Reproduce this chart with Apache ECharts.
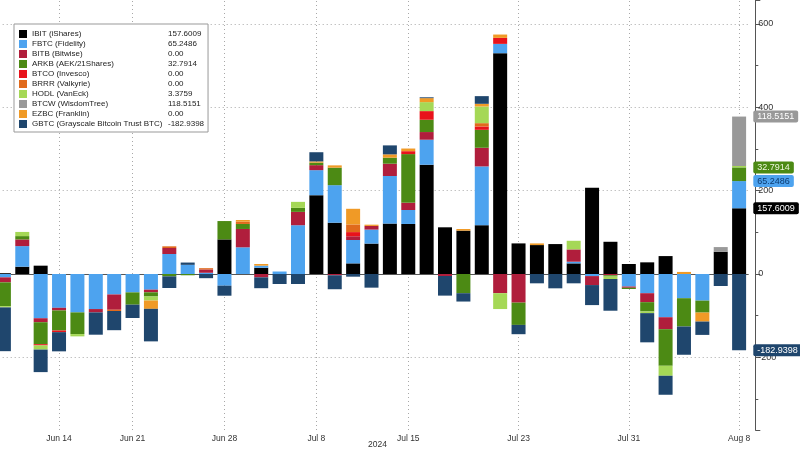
<!DOCTYPE html>
<html><head><meta charset="utf-8">
<script src="https://cdn.jsdelivr.net/npm/echarts@6.0.0/dist/echarts.min.js"></script>
<style>html,body{margin:0;padding:0;background:#fff}#c{width:800px;height:450px}</style>
</head><body><div id="c"></div>
<script>
const categories = ['Jun 11','Jun 12','Jun 13','Jun 14','Jun 17','Jun 18','Jun 20','Jun 21','Jun 24','Jun 25','Jun 26','Jun 27','Jun 28',
  'Jul 1','Jul 2','Jul 3','Jul 5','Jul 8','Jul 9','Jul 10','Jul 11','Jul 12','Jul 15','Jul 16','Jul 17','Jul 18','Jul 19',
  'Jul 22','Jul 23','Jul 24','Jul 25','Jul 26','Jul 29','Jul 30','Jul 31','Aug 1','Aug 2','Aug 5','Aug 6','Aug 7','Aug 8'];
const tickLabels = ['Jun 14','Jun 21','Jun 28','Jul 8','Jul 15','Jul 23','Jul 31','Aug 8'];
const yearLabel = '2024';
const seriesNames = ['IBIT (iShares)','FBTC (Fidelity)','BITB (Bitwise)','ARKB (AEK/21Shares)','BTCO (Invesco)','BRRR (Valkyrie)','HODL (VanEck)','BTCW (WisdomTree)','EZBC (Franklin)','GBTC (Grayscale Bitcoin Trust BTC)'];
const seriesColors = ['#000000','#4da3ef','#b01e3c','#4c8a14','#e8131b','#e06a1c','#a5d856','#999999','#f09a26','#1f466d'];

const ibit = [2,17.5,20,0,0,0,0,0,0,0, 0,0,83,0,15,0,0,189,123,25.5, 73,121,120,262,112,104,117,529.5,73.4,69.4, 71.8,25.5,207,77.3,24,28,43,0,0,53.4,157.6009];
const fbtc = [-8,49.4,-106,-81,-92,-84,-49,-44,-37.5,48, 22,3,-28,64,5,6,117,60,90,56, 33.5,114,33.5,60,0,0,141,22.3,0,0, 0,4,-5,0,-30,-46,-103.6,-58,-63.8,0,65.2486];
const bitb = [-12,16,-9.6,-6.4,0,-8,-36.7,0,-6.4,14.4, 0,8,0,44,-8,0,32,12,-3,9, 8.8,29.5,17.5,18.4,-4.8,0,44.7,-46,-68.6,0, 0,29.5,-21.5,-3,-3,-21.5,-28.7,0,0,0,0];
const arkb = [-57,8,-52.6,-48,-52,0,0,-29.5,-10,-5.6, -3,0,44,12,0,0,9.6,6,42,0, 0,14.4,116.5,29.5,0,-46,43,0,-53.4,0, 0,0,0,-3,-3,-22.3,-87.7,-67.8,-28.7,0,32.7914];
const btco = [0,0,-3,-4,0,0,0,0,0,0, 0,0,0,0,0,0,0,0,0,10, 0,0,7,20.7,0,0,8,14.4,0,0, 0,0,0,0,0,0,0,0,0,0,0];
const brrr = [0,0,0,0,0,0,-3,0,0,4, 0,3,0,5.5,0,0,0,0,0,18.4, 0,0,0,0,0,0,8,0,0,0, 0,0,0,0,0,0,0,0,0,0,0];
const hodl = [-3,10,-10,0,-5.5,0,0,0,-9.6,0, 0,0,0,0,0,0,14.4,0,0,0, 0,0,0,21.5,0,0,40,-38,0,0, 0,20.7,0,-6,0,-4,-24,0,0,0,3.3759];
const btcw = [0,0,0,0,0,0,0,0,0,0, 0,0,0,0,0,0,0,0,0,0, 0,0,0,0,0,0,0,0,0,0, 0,0,0,0,0,0,0,0,0,11.2,118.5151];
const ezbc = [0,0,0,0,0,0,0,0,-20,0, 0,0,0,4,4,0,0,3,5.5,37.5, 3,8,6.4,9.6,0,4,6.4,8,0,4, 0,0,0,0,0,0,0,5,-21.5,0,0];
const gbtc = [-105,0,-54,-46,0,-53.5,-46,-32,-78,-28, 5.5,-10,-24,0,-26,-24,-24,22,-33.5,-6.4, -32.7,21.5,0,2,-47,-20,18.4,0,-22.3,-22.3, -34.3,-22.3,-48,-76,0,-70,-45.5,-67.8,-32,-28.7,-182.9398];

const seriesData = [ibit,fbtc,bitb,arkb,btco,brrr,hodl,btcw,ezbc,gbtc];
const tagged = [true,true,false,true,false,false,false,true,false,true];
const tagText = ['#ffffff','#0b3a70','#fff','#eef7dd','#fff','#fff','#222','#ffffff','#222','#ffffff'];

const FONT = 'Liberation Sans';
const last = categories.length - 1;
const fmt = v => v === 0 ? '0.00' : v.toFixed(4);
let posSum = 0, negSum = 0;
const series = seriesNames.map((name, i) => {
  const v = seriesData[i][last];
  let cum;
  if (v >= 0) { posSum += v; cum = posSum; } else { negSum += v; cum = negSum; }
  const s = {
    name, type: 'bar', stack: 'total', barWidth: 14, data: seriesData[i],
    itemStyle: { color: seriesColors[i] }, emphasis: { disabled: true }
  };
  if (tagged[i]) {
    s.markLine = {
      silent: true, symbol: 'none', animation: false, z: 10,
      lineStyle: { color: 'rgba(0,0,0,0)', width: 0 },
      label: {
        show: true, position: 'end', distance: 5,
        formatter: () => fmt(v), color: tagText[i], backgroundColor: seriesColors[i],
        padding: [2, 4, 1, 4], fontSize: 9, fontFamily: FONT, borderRadius: 2
      },
      data: [{ yAxis: cum }]
    };
  }
  return s;
});
series.push({
  name: '__grid', type: 'line', data: categories.map(() => null), silent: true, symbol: 'none',
  markLine: {
    silent: true, symbol: 'none', animation: false, z: 1,
    lineStyle: { type: [1, 3], color: '#a8a8a8', width: 1 },
    label: { show: false },
    data: tickLabels.map(c => ({ xAxis: c }))
  }
});

const chart = echarts.init(document.getElementById('c'), null, { renderer: 'canvas' });
chart.setOption({
  animation: false,
  backgroundColor: '#fff',
  textStyle: { fontFamily: FONT },
  grid: { left: -5.3, right: 51.7, top: 0, bottom: 20, containLabel: false, outerBoundsMode: 'none' },
  legend: {
    orient: 'vertical', left: 14, top: 24, itemWidth: 8, itemHeight: 8, itemGap: 0, icon: 'rect',
    backgroundColor: '#fff', borderColor: '#999', borderWidth: 1, padding: [5, 4, 3, 5], selectedMode: false,
    data: seriesNames,
    formatter: name => `{n|${name}}{v|${fmt(seriesData[seriesNames.indexOf(name)][last])}}`,
    textStyle: {
      fontSize: 8, lineHeight: 10, color: '#222', fontFamily: FONT,
      rich: { n: { width: 136, fontSize: 8, lineHeight: 10, color: '#222', fontFamily: FONT }, v: { fontSize: 8, lineHeight: 10, color: '#222', fontFamily: FONT } }
    }
  },
  xAxis: {
    type: 'category', data: categories, boundaryGap: true,
    axisLine: { lineStyle: { color: '#555' } },
    axisTick: { interval: 0, alignWithLabel: true, length: 3, lineStyle: { color: '#555' } },
    axisLabel: { interval: (i, v) => tickLabels.includes(v), fontSize: 8.5, color: '#333', margin: 4, fontFamily: FONT },
    splitLine: { show: false },
    name: yearLabel, nameLocation: 'middle', nameGap: 15, nameMoveOverlap: false,
    nameTextStyle: { fontSize: 8.5, color: '#333', fontFamily: FONT, verticalAlign: 'middle', padding: [0, 0, 0, 12] }
  },
  yAxis: {
    type: 'value', position: 'right', offset: 7, min: -374, max: 657, splitNumber: 5,
    axisLine: { show: true, lineStyle: { color: '#555' } },
    axisTick: { show: true, length: 5, lineStyle: { color: '#555' } },
    minorTick: { show: true, splitNumber: 2, length: 3, lineStyle: { color: '#555' } },
    axisLabel: { fontSize: 9, color: '#333', margin: 3, showMinLabel: false, showMaxLabel: false, fontFamily: FONT },
    splitLine: { show: true, lineStyle: { type: [1, 3], color: ['rgba(0,0,0,0)', '#a8a8a8', 'rgba(0,0,0,0)', '#a8a8a8', '#a8a8a8', '#a8a8a8', 'rgba(0,0,0,0)'] } }
  },
  series
});
</script>
</body></html>
